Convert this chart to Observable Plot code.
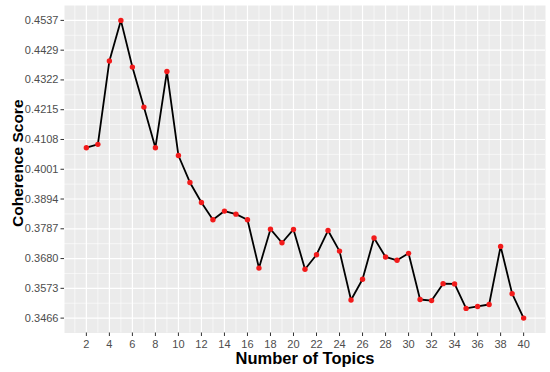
<!DOCTYPE html>
<html>
<head>
<meta charset="utf-8">
<script src="https://cdn.jsdelivr.net/npm/d3@7"></script>
<script src="https://cdn.jsdelivr.net/npm/@observablehq/plot@0.6"></script>
<style>
  html, body { margin: 0; padding: 0; background: #fff; }
  #chart svg { display: block; }
</style>
</head>
<body>
<div id="chart"></div>
<script>
const topics = [2,3,4,5,6,7,8,9,10,11,12,13,14,15,16,17,18,19,20,21,22,23,24,25,26,27,28,29,30,31,32,33,34,35,36,37,38,39,40];
const scores = [0.4079,0.4091,0.4391,0.4537,0.4369,0.4225,0.4079,0.4353,0.4051,0.3954,0.3882,0.3820,0.3851,0.3840,0.3820,0.3646,0.3786,0.3737,0.3785,0.3642,0.3694,0.3781,0.3707,0.3531,0.3606,0.3754,0.3686,0.3674,0.3699,0.3533,0.3529,0.3590,0.3589,0.3501,0.3508,0.3515,0.3724,0.3554,0.3466];
const yTickLabels = ["0.3466","0.3573","0.3680","0.3787","0.3894","0.4001","0.4108","0.4215","0.4322","0.4429","0.4537"];
const xTicks = [2,4,6,8,10,12,14,16,18,20,22,24,26,28,30,32,34,36,38,40];
const xTitle = "Number of Topics";
const yTitle = "Coherence Score";

const data = topics.map((t, i) => ({topic: t, score: scores[i]}));
const yMin = d3.min(scores), yMax = d3.max(scores);
const yTicks = d3.range(11).map(i => yMin + i * (yMax - yMin) / 10);
const yMinor = d3.range(10).map(i => (yTicks[i] + yTicks[i + 1]) / 2);
const xMinor = d3.range(1, 42, 2);
const xMin = d3.min(topics), xMax = d3.max(topics);
const xPad = (xMax - xMin) * 0.05, yPad = (yMax - yMin) * 0.05;

const font = "'Liberation Sans', Arial, Helvetica, sans-serif";

const chart = Plot.plot({
  width: 550,
  height: 372,
  marginLeft: 64,
  marginRight: 5,
  marginTop: 5,
  marginBottom: 39.5,
  style: {fontFamily: font, background: "#fff"},
  x: {domain: [xMin - xPad, xMax + xPad]},
  y: {domain: [yMin - yPad, yMax + yPad]},
  marks: [
    Plot.frame({fill: "#ebebeb", stroke: null}),
    Plot.ruleY(yMinor, {stroke: "#fff", strokeWidth: 0.6}),
    Plot.ruleX(xMinor, {stroke: "#fff", strokeWidth: 0.6}),
    Plot.ruleY(yTicks, {stroke: "#fff", strokeWidth: 1.2}),
    Plot.ruleX(xTicks, {stroke: "#fff", strokeWidth: 1.2}),
    Plot.line(data, {x: "topic", y: "score", stroke: "#000", strokeWidth: 1.8}),
    Plot.dot(data, {x: "topic", y: "score", fill: "#f21b1b", r: 2.7, stroke: null}),
    Plot.axisY(yTicks, {
      tickFormat: (d, i) => yTickLabels[i],
      tickSize: 3.5, tickPadding: 2.5, fontSize: 11,
      color: "#4d4d4d", stroke: "#333", label: null
    }),
    Plot.axisX(xTicks, {
      tickSize: 3.5, tickPadding: 3.4, fontSize: 11,
      color: "#4d4d4d", stroke: "#333", label: null
    }),
    Plot.text([xTitle], {
      frameAnchor: "bottom", dy: 25.5, lineAnchor: "middle", textAnchor: "middle",
      fontSize: 16.5, fontWeight: "bold", fill: "#000"
    }),
    Plot.text([yTitle], {
      frameAnchor: "left", dx: -46, dy: -6, rotate: -90, lineAnchor: "middle", textAnchor: "middle",
      fontSize: 15.5, fontWeight: "bold", fill: "#000"
    })
  ]
});
document.getElementById("chart").appendChild(chart);
</script>
</body>
</html>
